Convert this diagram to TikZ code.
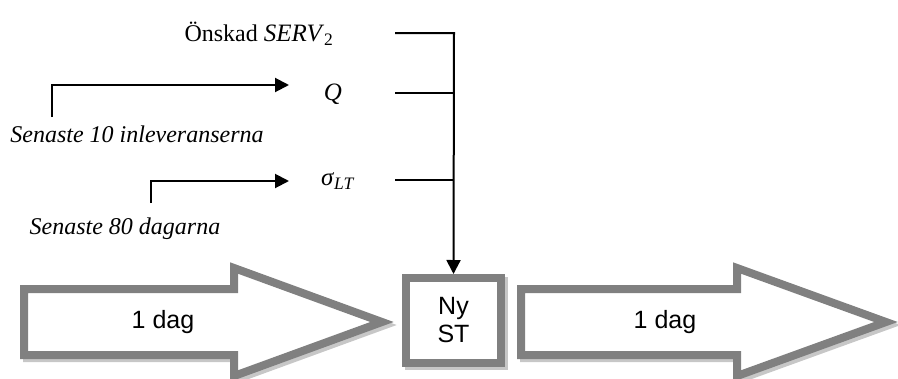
\documentclass[tikz,border=0pt]{standalone}
\usepackage{fontspec}
\setmainfont{Liberation Serif}
\newfontfamily\arialf{Liberation Sans}
\usetikzlibrary{arrows.meta}
\definecolor{boxgray}{gray}{0.5}
\definecolor{shadowgray}{gray}{0.78}
\tikzset{
  serif/.style={font=\fontsize{24}{28}\selectfont, inner sep=0pt},
  mathlbl/.style={font=\fontsize{25}{28}\selectfont, inner sep=0pt},
  sans/.style={font=\arialf\fontsize{25}{30}\selectfont, inner sep=0pt, align=center},
  feed/.style={line width=2pt},
  feedarrow/.style={line width=2pt, -{Triangle[length=14pt,width=14pt]}},
  blockline/.style={draw=boxgray, line width=8pt, fill=white, miter limit=20},
  blockshadow/.style={draw=shadowgray, line width=8pt, miter limit=20},
}
\begin{document}
\begin{tikzpicture}[x=1pt,y=-1pt]
\useasboundingbox (0,0) rectangle (898,378);
% text labels
\node[serif] (onskad) at (259,34) {Önskad {\fontsize{25}{28}\selectfont\textit{SERV}\textsubscript{2}}};
\node[mathlbl] (q) at (333,94) {\textit{Q}};
\node[mathlbl] (sig) at (338,181) {\textit{σ}\textsubscript{\textit{LT}}};
\node[serif] (s10) at (137,134) {\textit{Senaste 10 inleveranserna}};
\node[serif] (s80) at (125,229) {\textit{Senaste 80 dagarna}};
% junction coordinates
\coordinate (l1) at (395,33);
\coordinate (l2) at (395,93);
\coordinate (l3) at (395,180);
\coordinate (j1) at (454,33);
\coordinate (j2) at (454,93);
\coordinate (j3) at (454,180);
\coordinate (a1s) at (52,117);
\coordinate (a1c) at (52,85);
\coordinate (a1e) at (289,85);
\coordinate (a2s) at (151,203);
\coordinate (a2c) at (151,181);
\coordinate (a2e) at (289,181);
% block arrows shadows
\draw[blockshadow] (27,292) -- (237,292) -- (237,271) -- (385,325) -- (237,379) -- (237,358) -- (27,358) -- cycle;
\draw[blockshadow] (524,292) -- (740,292) -- (740,271) -- (889,325) -- (740,379) -- (740,358) -- (524,358) -- cycle;
\draw[blockshadow] (409,281) rectangle (504,366);
% block arrows
\draw[blockline] (24,289) -- (234,289) -- (234,268) -- (382,322) -- (234,376) -- (234,355) -- (24,355) -- cycle;
\draw[blockline] (521,289) -- (737,289) -- (737,268) -- (886,322) -- (737,376) -- (737,355) -- (521,355) -- cycle;
\node[blockline, minimum width=95pt, minimum height=85pt, inner sep=0pt] (box) at (453.5,320.5) {};
\node[sans] (nyst) at (box.center) {Ny\\[-2pt]ST};
\node[sans] (dag1) at (163,322) {1 dag};
\node[sans] (dag2) at (665,322) {1 dag};
% connectors
\draw[feed] (l2) -- (j2);
\draw[feed] (l3) -- (j3);
\draw[feedarrow] (l1) -- (j1) -- (box.north);
\draw[feedarrow] (a1s) -- (a1c) -- (a1e);
\draw[feedarrow] (a2s) -- (a2c) -- (a2e);
\end{tikzpicture}
\end{document}
